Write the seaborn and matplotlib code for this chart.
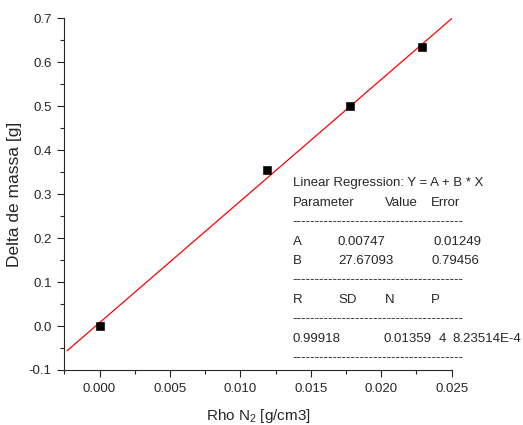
import numpy as np
import pandas as pd
import matplotlib
matplotlib.use("Agg")
import matplotlib.pyplot as plt
import seaborn as sns

# dati sperimentali
rho_n2 = [0.0, 0.0119, 0.0178, 0.0229]
delta_massa = [0.0, 0.354, 0.500, 0.635]

# parametri della regressione lineare
A, A_err = 0.00747, 0.01249
B, B_err = 27.67093, 0.79456
R, SD, N, P = 0.99918, 0.01359, 4, "8.23514E-4"
fit_range = [-0.0023, 0.025]

sns.set_style("ticks")
plt.rcParams['font.family'] = ['Liberation Sans', 'DejaVu Sans']

fig = plt.figure(figsize=(5.23, 4.25), dpi=100)
ax = fig.add_axes([64.3 / 523, 1 - 370 / 425, (451.7 - 64.3) / 523, (370 - 18.3) / 425])

df = pd.DataFrame({'rho': rho_n2, 'dm': delta_massa})
x_fit = np.array(fit_range)
fit = pd.DataFrame({'x': x_fit, 'y': A + B * x_fit})

sns.lineplot(data=fit, x='x', y='y', color='red', lw=0.9, ax=ax)
sns.scatterplot(data=df, x='rho', y='dm', marker='s', color='black', s=30,
                edgecolor='black', zorder=3, ax=ax)

ax.set_xlim(-0.0025, 0.025)
ax.set_ylim(-0.1, 0.7)
ax.set_xticks(np.arange(0, 0.0251, 0.005))
ax.set_xticks(np.arange(-0.0025, 0.0251, 0.0025), minor=True)
ax.set_yticks(np.arange(-0.1, 0.701, 0.1))
ax.set_yticks(np.arange(-0.1, 0.701, 0.05), minor=True)
ax.set_xticklabels([f"{v:.3f}" for v in np.arange(0, 0.0251, 0.005)])
ax.set_yticklabels([f"{v:.1f}" for v in np.arange(-0.1, 0.701, 0.1)])
ax.tick_params(which='major', length=5, width=0.8, labelsize=9.5, direction='out', pad=4)
ax.tick_params(which='minor', length=3, width=0.8, direction='out')
for s in ['left', 'bottom']:
    ax.spines[s].set_linewidth(0.8)
sns.despine(ax=ax)

ax.set_xlabel(r"Rho N$\mathregular{_2}$ [g/cm3]", fontsize=11, labelpad=9)
ax.set_ylabel("Delta de massa [g]", fontsize=12.5, labelpad=5)

# riquadro della regressione
def t(x, y, s):
    fig.text(x / 523, 1 - y / 425, s, fontsize=9.5, va='center', ha='left')

dashes = "-" * 38
t(292.7, 183, "Linear Regression: Y = A + B * X")
t(292.7, 203, "Parameter")
t(385, 203, "Value")
t(431, 203, "Error")
t(292.7, 222, dashes)
t(292.7, 242, "A")
t(338, 242, f"{A:.5f}")
t(433, 242, f"{A_err:.5f}")
t(292.7, 261, "B")
t(338, 261, f"{B:.5f}")
t(432, 261, f"{B_err:.5f}")
t(292.7, 280, dashes)
t(292.7, 300, "R")
t(338, 300, "SD")
t(385, 300, "N")
t(431, 300, "P")
t(292.7, 319, dashes)
t(292.7, 339, f"{R:.5f}")
t(384, 339, f"{SD:.5f}")
t(439, 339, f"{N}")
t(452.7, 339, P)
t(292.7, 358, dashes)

fig.savefig("out.png", dpi=100)
